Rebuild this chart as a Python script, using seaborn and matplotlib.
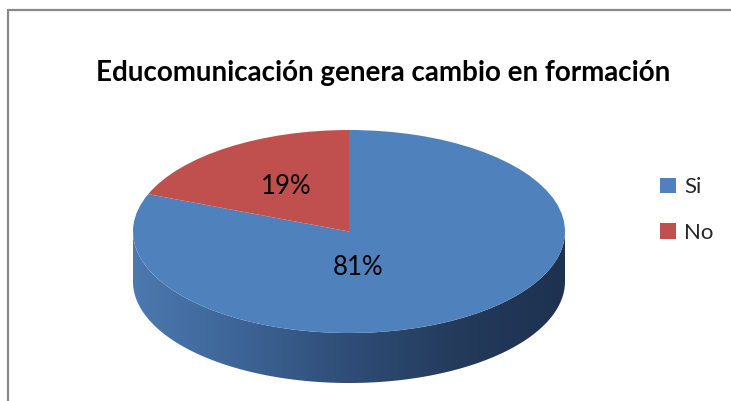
import numpy as np
import matplotlib
matplotlib.use("Agg")
import matplotlib.pyplot as plt
import seaborn as sns
from matplotlib.patches import Rectangle, PathPatch
from matplotlib.path import Path
from matplotlib.colors import LinearSegmentedColormap

# ── data ─────────────────────────────────────────────
labels = ["Si", "No"]
values = [81, 19]
colors = ["#4F81BD", "#C0504D"]
title = "Educomunicación genera cambio en formación"

sns.set_theme(style="white")
plt.rcParams["font.family"] = ["Lato", "DejaVu Sans"]

W, H = 731, 401
fig = plt.figure(figsize=(W / 100, H / 100), dpi=100)
fig.patch.set_facecolor("white")

# chart border (Excel-like frame)
fig.patches.append(Rectangle((8 / W, -0.1), 1.2, 1 - 10 / H + 0.1,
                             transform=fig.transFigure, fill=False,
                             edgecolor="#8a8a8a", linewidth=1.6))

# pie geometry in pixels: ellipse left/right, top, bottom of top face, side depth
px_l, px_r, px_t, px_b, depth_px = 133, 565, 130, 333, 50
ry = (px_b - px_t) / 2
d = depth_px / ry
ax = fig.add_axes([px_l / W, (H - px_b - depth_px) / H,
                   (px_r - px_l) / W, (px_b - px_t + depth_px) / H])

# 3D side with horizontal shading
t = np.linspace(np.pi, 2 * np.pi, 200)
top = np.column_stack([np.cos(t), np.sin(t)])
bot = np.column_stack([np.cos(t[::-1]), np.sin(t[::-1]) - d])
side = Path(np.vstack([top, bot, top[:1]]), closed=True)
cmap = LinearSegmentedColormap.from_list(
    "side", ["#4C79B0", "#3D6496", "#2F4D76", "#243B5C", "#1E3150"])
grad = np.linspace(0, 1, 256).reshape(1, -1)
im = ax.imshow(grad, cmap=cmap, extent=[-1, 1, -1 - d, 0.05],
               aspect="auto", zorder=1)
clip = PathPatch(side, transform=ax.transData, facecolor="none", edgecolor="none")
ax.add_patch(clip)
im.set_clip_path(clip)

# top face
wedges, _ = ax.pie(values, colors=colors, startangle=90, counterclock=False,
                   radius=1, center=(0, 0), wedgeprops=dict(linewidth=0))
for w in wedges:
    w.set_zorder(2)
ax.set_aspect("auto")
ax.set_xlim(-1, 1)
ax.set_ylim(-1 - d, 1)
ax.axis("off")

# percentage labels
label_pos = [(0.04, -0.35), (-0.29, 0.44)]
for v, (x, y) in zip(values, label_pos):
    ax.text(x, y, f"{v}%", ha="center", va="center", fontsize=18.5,
            color="black", zorder=3)

fig.text(383 / W, 1 - 73 / H, title, ha="center", va="center",
         fontsize=20, fontweight="bold", color="black")

fig.legend(wedges, labels, loc="center left",
           bbox_to_anchor=(640 / W, 1 - 210 / H), frameon=False,
           fontsize=16, handlelength=0.7, handleheight=0.7,
           handletextpad=0.4, labelspacing=1.15)

fig.savefig("out.png", dpi=100)
